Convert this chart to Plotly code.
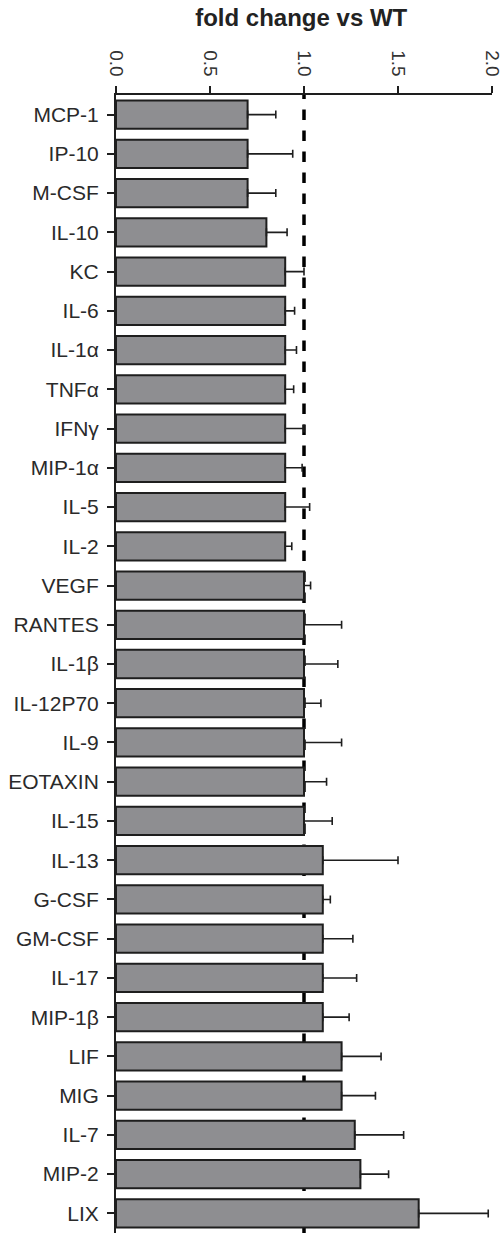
import plotly.graph_objects as go

# Cytokine panel, fold change relative to wild type
cytokines = ["MCP-1", "IP-10", "M-CSF", "IL-10", "KC", "IL-6", "IL-1α", "TNFα",
             "IFNγ", "MIP-1α", "IL-5", "IL-2", "VEGF", "RANTES", "IL-1β", "IL-12P70",
             "IL-9", "EOTAXIN", "IL-15", "IL-13", "G-CSF", "GM-CSF", "IL-17", "MIP-1β",
             "LIF", "MIG", "IL-7", "MIP-2", "LIX"]
fold_change = [0.70, 0.70, 0.70, 0.80, 0.90, 0.90, 0.90, 0.90,
               0.90, 0.90, 0.90, 0.90, 1.00, 1.00, 1.00, 1.00,
               1.00, 1.00, 1.00, 1.10, 1.10, 1.10, 1.10, 1.10,
               1.20, 1.20, 1.27, 1.30, 1.61]
sem = [0.15, 0.24, 0.15, 0.11, 0.10, 0.05, 0.06, 0.045,
       0.10, 0.09, 0.13, 0.035, 0.035, 0.20, 0.18, 0.09,
       0.20, 0.12, 0.15, 0.40, 0.04, 0.16, 0.18, 0.14,
       0.21, 0.18, 0.26, 0.15, 0.37]
x_ticks = [0.0, 0.5, 1.0, 1.5, 2.0]
x_tick_text = ["0.0", "0.5", "1.0", "1.5", "2.0"]

fig = go.Figure()
fig.add_trace(go.Bar(
    x=fold_change,
    y=cytokines,
    orientation="h",
    width=0.72,
    marker=dict(color="#8e8e91", line=dict(color="#1e1e1e", width=2)),
    error_x=dict(type="data", array=sem, arrayminus=[0] * len(sem), symmetric=False,
                 color="#1e1e1e", thickness=1.6, width=4),
    showlegend=False,
))

# reference line at fold change = 1 (no change vs WT)
fig.add_shape(type="line", xref="x", yref="paper", x0=1.0, x1=1.0, y0=0, y1=1,
              line=dict(color="black", width=3.5, dash="dash"), layer="below")

fig.update_layout(
    width=502, height=1234,
    margin=dict(l=116, r=10, t=95, b=1),
    paper_bgcolor="white", plot_bgcolor="white",
    font=dict(family="Liberation Sans, Arial, sans-serif", color="#222222"),
    title=dict(text="<b>fold change vs WT</b>", x=0.6, xanchor="center",
               y=0.986, yanchor="middle", font=dict(size=24, color="#222222")),
    bargap=0.28,
)
fig.update_xaxes(
    side="top", range=[0, 2.0], tickvals=x_ticks, ticktext=x_tick_text,
    tickangle=90, ticks="outside", ticklen=7, tickwidth=1.5, tickcolor="#1e1e1e",
    showline=True, linecolor="#1e1e1e", linewidth=1.5, showgrid=False, zeroline=False,
    tickfont=dict(size=19, color="#333333"), ticklabelstandoff=3,
    ticklabeloverflow="allow", automargin=False,
)
fig.update_yaxes(
    autorange="reversed", ticks="outside", ticklen=7, tickwidth=1.5, tickcolor="#1e1e1e",
    showline=True, linecolor="#1e1e1e", linewidth=2, showgrid=False,
    tickfont=dict(size=21, color="#2a2a2a"), ticklabelstandoff=4,
    ticklabeloverflow="allow", automargin=False,
)

fig.write_html("out.html")
